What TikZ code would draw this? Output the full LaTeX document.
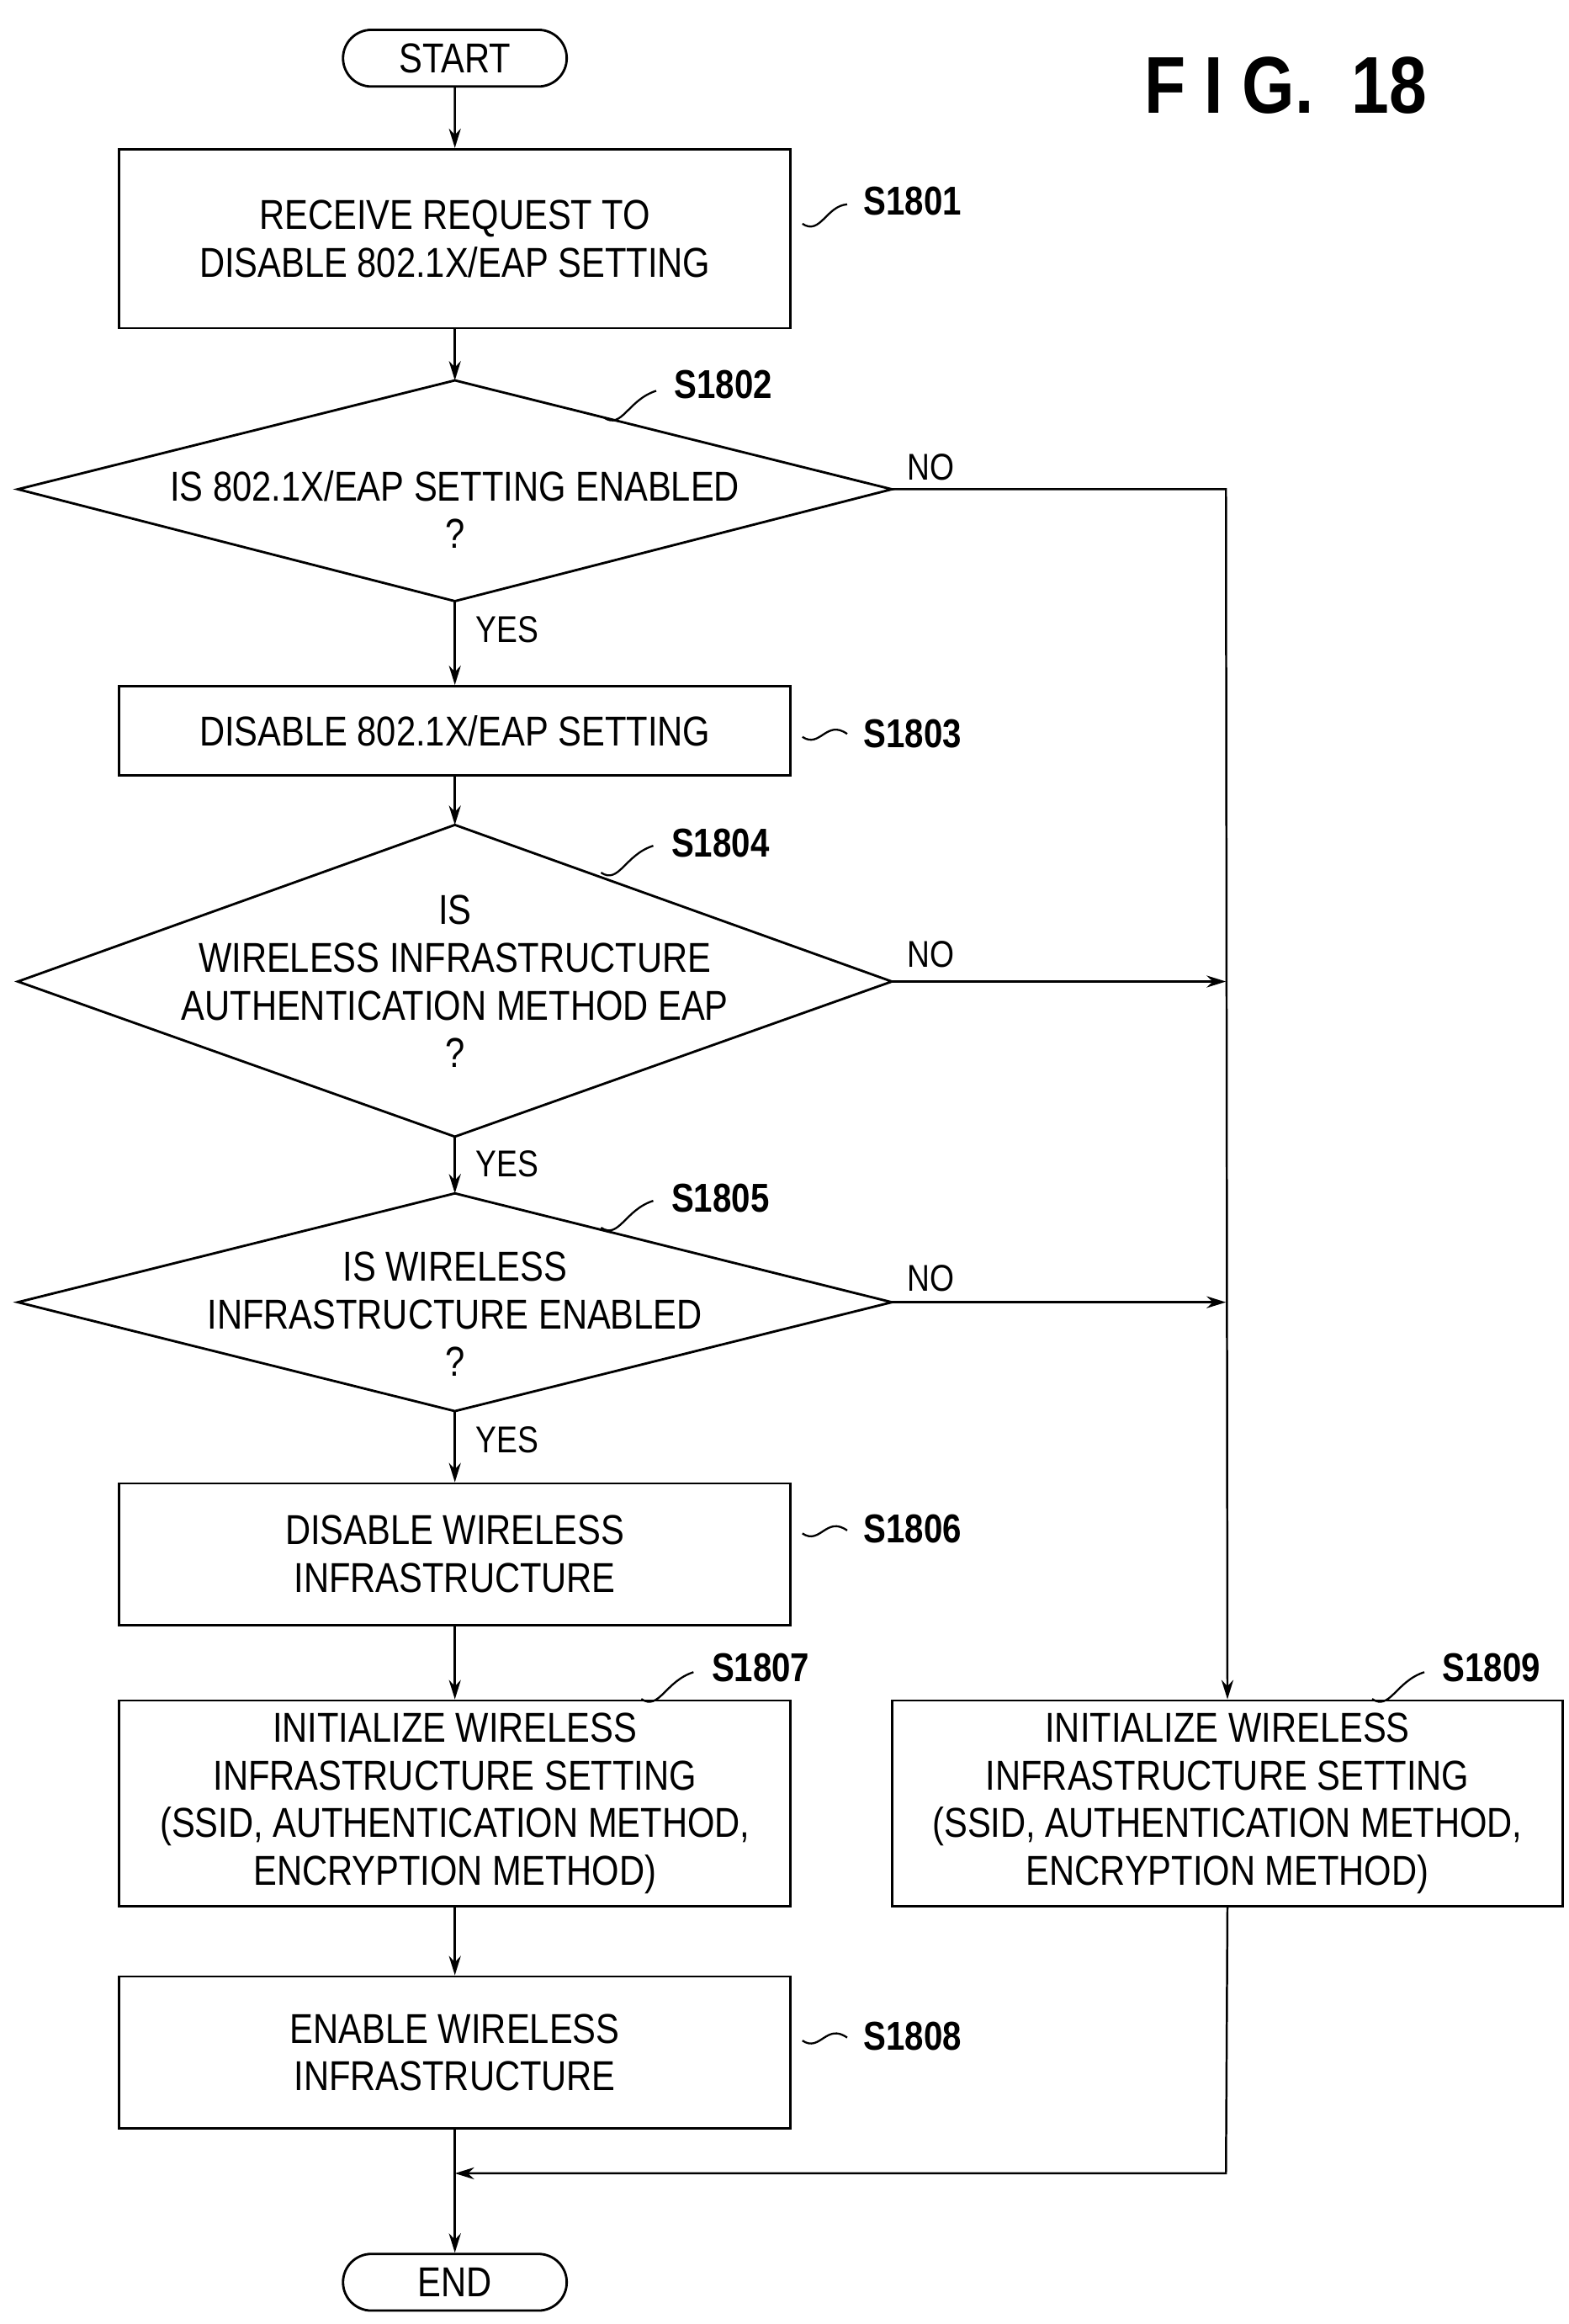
\documentclass[tikz,border=0pt]{standalone}
\usepackage{fontspec}
\setmainfont{Liberation Sans}[FakeStretch=0.84]
\usetikzlibrary{arrows.meta,shapes.misc}
\begin{document}
\begin{tikzpicture}[x=1pt,y=-1pt,
  every node/.style={font=\fontsize{28}{32}\selectfont},
  box/.style={draw,line width=1.6pt,align=center,inner sep=0pt},
  term/.style={draw,line width=1.6pt,rounded rectangle,minimum width=150pt,minimum height=38pt,inner sep=0pt},
  ln/.style={line width=1.4pt},
  arr/.style={ln,-{Stealth[length=13pt,width=8pt]}},
  lab/.style={font=\fontsize{27}{30}\selectfont\bfseries},
  yn/.style={font=\fontsize{25}{28}\selectfont},
  sq/.style={line width=1.3pt}]
\useasboundingbox (0,0) rectangle (1052,1558);
\newcommand{\dia}[4]{% name, cy, top, bottom
  \coordinate (#1t) at (305,#3); \coordinate (#1b) at (305,#4);
  \coordinate (#1l) at (12,#2); \coordinate (#1r) at (598,#2);
  \draw[line width=1.6pt] (#1t)--(#1r)--(#1b)--(#1l)--cycle;}
\newcommand{\squig}[4]{\draw[sq] (#1,#2) .. controls (#1+12,#2+8) and (#1+16,#2-12) .. (#3,#4);}
\node[term] (start) at (305,39) {START};
\node[box,minimum width=450pt,minimum height=120pt] (b1) at (305,160) {RECEIVE REQUEST TO\\DISABLE 802.1X/EAP SETTING};
\dia{d2}{328}{255}{403}
\node at (305,326) {IS 802.1X/EAP SETTING ENABLED};
\node at (305,358) {?};
\node[box,minimum width=450pt,minimum height=60pt] (b3) at (305,490) {DISABLE 802.1X/EAP SETTING};
\dia{d4}{658}{553}{762}
\node[align=center] at (305,658) {IS\\WIRELESS INFRASTRUCTURE\\AUTHENTICATION METHOD EAP\\?};
\dia{d5}{873}{800}{946}
\node[align=center] at (305,881) {IS WIRELESS\\INFRASTRUCTURE ENABLED\\?};
\node[box,minimum width=450pt,minimum height=95pt] (b6) at (305,1042) {DISABLE WIRELESS\\INFRASTRUCTURE};
\node[box,minimum width=450pt,minimum height=138pt] (b7) at (305,1209) {INITIALIZE WIRELESS\\INFRASTRUCTURE SETTING\\(SSID, AUTHENTICATION METHOD,\\ENCRYPTION METHOD)};
\node[box,minimum width=450pt,minimum height=138pt] (b9) at (823,1209) {INITIALIZE WIRELESS\\INFRASTRUCTURE SETTING\\(SSID, AUTHENTICATION METHOD,\\ENCRYPTION METHOD)};
\node[box,minimum width=450pt,minimum height=102pt] (b8) at (305,1376) {ENABLE WIRELESS\\INFRASTRUCTURE};
\node[term] (end) at (305,1530) {END};
\coordinate (m) at (305,1457);
\coordinate (r2) at (822,328);
\coordinate (r4) at (822,658);
\coordinate (r5) at (822,873);
\coordinate (rb) at (822,1457);
% connectors
\draw[arr] (start) -- (b1);
\draw[arr] (b1) -- (d2t);
\draw[arr] (d2b) -- (b3);
\draw[arr] (b3) -- (d4t);
\draw[arr] (d4b) -- (d5t);
\draw[arr] (d5b) -- (b6);
\draw[arr] (b6) -- (b7);
\draw[arr] (b7) -- (b8);
\draw[ln] (b8) -- (m);
\draw[arr] (m) -- (end);
\draw[arr] (d2r) -- (r2) -- (b9.north);
\draw[arr] (d4r) -- (r4);
\draw[arr] (d5r) -- (r5);
\draw[arr] (b9.south) -- (rb) -- (m);
% yes/no
\node[yn] at (624,313) {NO};
\node[yn] at (624,640) {NO};
\node[yn] at (624,857) {NO};
\node[yn] at (340,422) {YES};
\node[yn] at (340,780) {YES};
\node[yn] at (340,965) {YES};
% step labels
\node[lab] at (612,135) {S1801}; \squig{538}{150}{568}{137}
\node[lab] at (485,258) {S1802}; \squig{405}{280}{440}{262}
\node[lab] at (612,492) {S1803}; \squig{538}{494}{568}{492}
\node[lab] at (483,565) {S1804}; \squig{403}{585}{438}{567}
\node[lab] at (483,803) {S1805}; \squig{403}{823}{438}{805}
\node[lab] at (612,1025) {S1806}; \squig{538}{1028}{568}{1026}
\node[lab] at (510,1118) {S1807}; \squig{430}{1139}{465}{1121}
\node[lab] at (612,1365) {S1808}; \squig{538}{1368}{568}{1366}
\node[lab] at (1000,1118) {S1809}; \squig{920}{1139}{955}{1121}
\node[font=\fontsize{54}{60}\selectfont\bfseries] at (862,57) {F I G.\ \ 18};
\end{tikzpicture}
\end{document}
